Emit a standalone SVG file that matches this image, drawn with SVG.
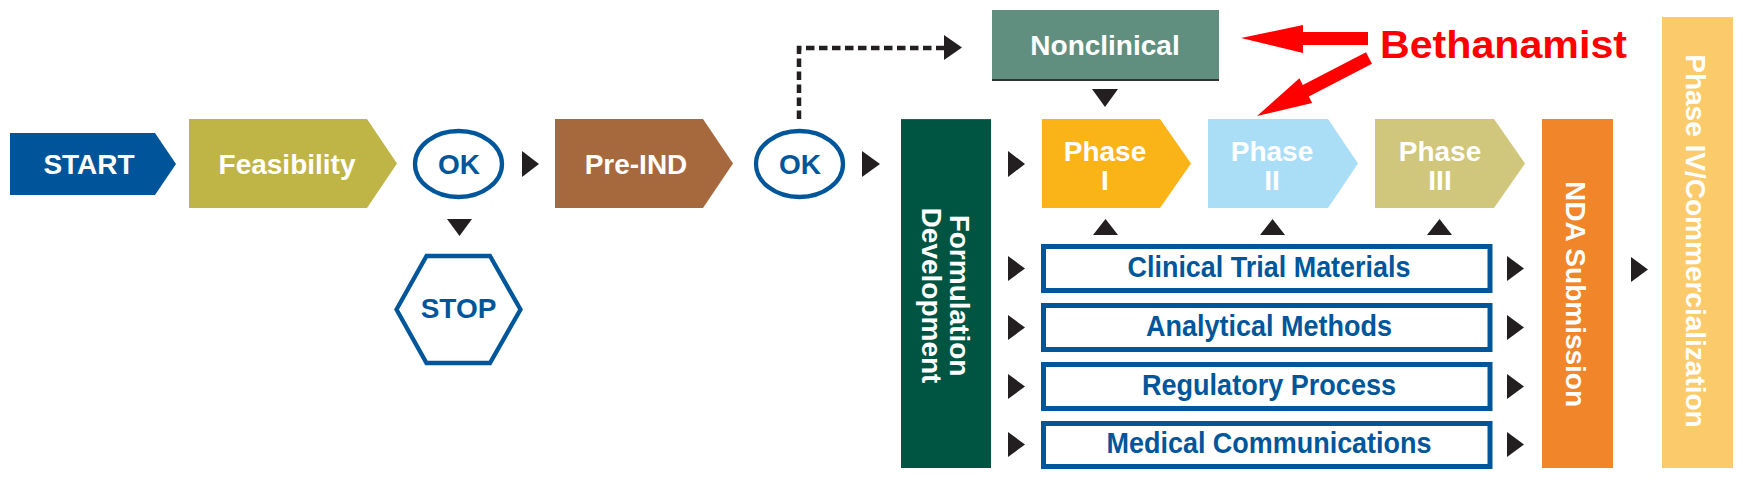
<svg xmlns="http://www.w3.org/2000/svg" width="1743" height="480" viewBox="0 0 1743 480">
<style>
text{font-family:"Liberation Sans",Arial,sans-serif;font-weight:bold}
.w{fill:#ffffff;font-size:28px}
.b{fill:#00569a}
.box{fill:#ffffff;stroke:#00569a;stroke-width:5}
.ah{fill:#231f20}
.bt{fill:#00569a;font-size:29px}
</style>
<rect width="1743" height="480" fill="#ffffff"/>
<g id="start">
<polygon points="10,133 155,133 176,164 155,195 10,195" fill="#00559a"/>
<text class="w" x="89" y="174" font-size="29" text-anchor="middle">START</text>
</g>
<g id="feasibility">
<polygon points="189,119 367,119 397,163.5 367,208 189,208" fill="#bfb547"/>
<text class="w" x="287" y="174" text-anchor="middle">Feasibility</text>
</g>
<g id="ok1">
<ellipse cx="458.5" cy="164" rx="43.5" ry="33" fill="#ffffff" stroke="#00569a" stroke-width="4.3"/>
<text class="b" x="459" y="173.5" font-size="28" text-anchor="middle">OK</text>
</g>
<g id="stop">
<polygon points="396.5,309.5 426.5,256 490,256 520.5,309.5 490,363 426.5,363" fill="#ffffff" stroke="#00569a" stroke-width="4.3"/>
<text class="b" x="458.5" y="317.5" font-size="28" text-anchor="middle">STOP</text>
</g>
<g id="preind">
<polygon points="555,119 703,119 733,163.5 703,208 555,208" fill="#a6693e"/>
<text class="w" x="636" y="174" text-anchor="middle">Pre-IND</text>
</g>
<g id="ok2">
<ellipse cx="799.5" cy="164" rx="43.5" ry="33" fill="#ffffff" stroke="#00569a" stroke-width="4.3"/>
<text class="b" x="800" y="173.5" font-size="28" text-anchor="middle">OK</text>
</g>
<g id="nonclinical">
<rect x="992" y="10" width="227" height="70" fill="#608f80"/>
<line x1="992" y1="80" x2="1219" y2="80" stroke="#333333" stroke-width="2"/>
<text class="w" x="1105" y="55" font-size="29" text-anchor="middle">Nonclinical</text>
</g>
<g id="formulation">
<rect x="901" y="119" width="90" height="349" fill="#005442"/>
<line x1="901" y1="119.5" x2="991" y2="119.5" stroke="#1d5d8a" stroke-width="1"/>
<text class="w" transform="translate(950,295.5) rotate(90)" text-anchor="middle">Formulation</text>
<text class="w" transform="translate(922,295.5) rotate(90)" text-anchor="middle">Development</text>
</g>
<g id="phase1">
<polygon points="1042,119 1160,119 1191,163.5 1160,208 1042,208" fill="#fbb417"/>
<text class="w" x="1105" y="161" text-anchor="middle">Phase</text>
<text class="w" x="1105" y="190" text-anchor="middle">I</text>
</g>
<g id="phase2">
<polygon points="1208,119 1328,119 1358,163.5 1328,208 1208,208" fill="#a9def6"/>
<text class="w" x="1272" y="161" text-anchor="middle">Phase</text>
<text class="w" x="1272" y="190" text-anchor="middle">II</text>
</g>
<g id="phase3">
<polygon points="1375,119 1494,119 1525,163.5 1494,208 1375,208" fill="#d0c67c"/>
<text class="w" x="1440" y="161" text-anchor="middle">Phase</text>
<text class="w" x="1440" y="190" text-anchor="middle">III</text>
</g>
<g id="ctm">
<rect class="box" x="1043.5" y="246.5" width="446.5" height="44"/>
<text class="bt" x="1269" y="277" text-anchor="middle" textLength="283" lengthAdjust="spacingAndGlyphs">Clinical Trial Materials</text>
</g>
<g id="analytical">
<rect class="box" x="1043.5" y="305.5" width="446.5" height="44"/>
<text class="bt" x="1269" y="335.5" text-anchor="middle" textLength="246" lengthAdjust="spacingAndGlyphs">Analytical Methods</text>
</g>
<g id="regulatory">
<rect class="box" x="1043.5" y="364.5" width="446.5" height="44"/>
<text class="bt" x="1269" y="394.5" text-anchor="middle" textLength="254" lengthAdjust="spacingAndGlyphs">Regulatory Process</text>
</g>
<g id="medcomm">
<rect class="box" x="1043.5" y="423.5" width="446.5" height="43"/>
<text class="bt" x="1269" y="452.5" text-anchor="middle" textLength="325" lengthAdjust="spacingAndGlyphs">Medical Communications</text>
</g>
<g id="nda">
<rect x="1542" y="119" width="71" height="349" fill="#f1852a"/>
<text class="w" transform="translate(1566,294) rotate(90)" text-anchor="middle">NDA Submission</text>
</g>
<g id="phase4">
<rect x="1662" y="17" width="71" height="451" fill="#fbcb6b"/>
<text class="w" font-size="30" transform="translate(1686,241) rotate(90)" text-anchor="middle">Phase IV/Commercialization</text>
</g>
<g id="bethanamist">
<text x="1380" y="58" font-size="38" fill="#ff0000" textLength="247" lengthAdjust="spacingAndGlyphs">Bethanamist</text>
<polygon points="1241,38 1303,25 1303,32 1368,32 1368,45 1303,45 1303,53" fill="#ff0000"/>
<polygon points="1257,116 1299.4,78.3 1302.8,84.9 1366,52.2 1372,63.8 1308.8,96.5 1312.2,103.1" fill="#ff0000"/>
</g>
<g id="connectors">
<path d="M799,119 V48 H946" fill="none" stroke="#231f20" stroke-width="4.5" stroke-dasharray="8.5,4.5"/>
<polygon class="ah" points="944,35 962,47.5 944,60"/>
<polygon class="ah" points="522,151 539,164 522,177"/>
<polygon class="ah" points="447,219 472,219 459.5,236"/>
<polygon class="ah" points="862,151 880,164 862,177"/>
<polygon class="ah" points="1008,151 1025,164 1008,177"/>
<polygon class="ah" points="1092,89 1118,89 1105,107"/>
<polygon class="ah" points="1093,235 1118,235 1105.5,219"/>
<polygon class="ah" points="1260,235 1285,235 1272.5,219"/>
<polygon class="ah" points="1427,235 1452,235 1439.5,219"/>
<polygon class="ah" points="1008,256 1025,268.5 1008,281"/>
<polygon class="ah" points="1008,315 1025,327.5 1008,340"/>
<polygon class="ah" points="1008,374 1025,386.5 1008,399"/>
<polygon class="ah" points="1008,432 1025,444.5 1008,457"/>
<polygon class="ah" points="1507,256 1524,268.5 1507,281"/>
<polygon class="ah" points="1507,315 1524,327.5 1507,340"/>
<polygon class="ah" points="1507,374 1524,386.5 1507,399"/>
<polygon class="ah" points="1507,432 1524,444.5 1507,457"/>
<polygon class="ah" points="1631,257 1648,269.5 1631,282"/>
</g>
</svg>
